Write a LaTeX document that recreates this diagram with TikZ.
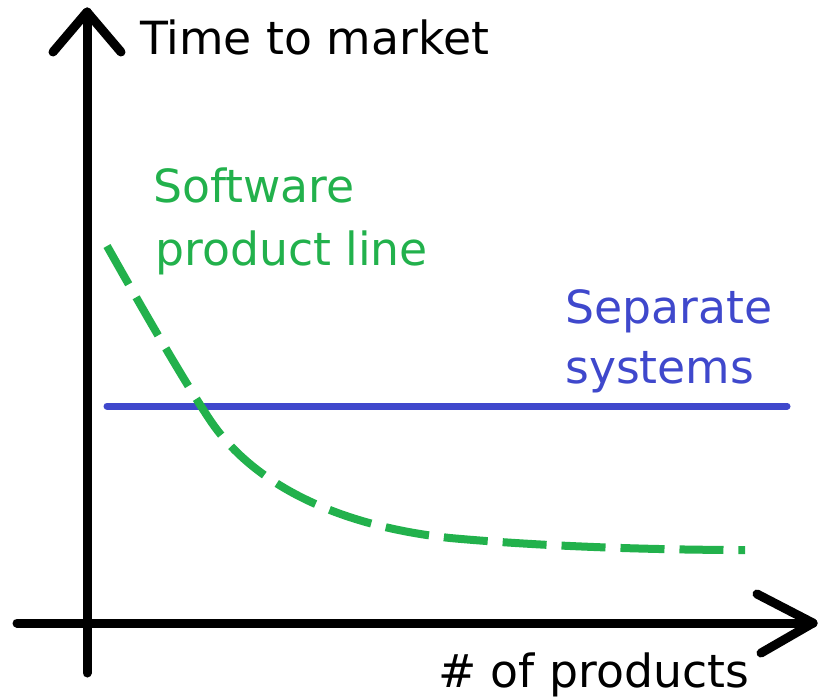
\documentclass[tikz,border=0pt]{standalone}
\usepackage{fontspec}
\setmainfont{DejaVu Sans}
\definecolor{pgreen}{HTML}{22B14C}
\definecolor{pblue}{HTML}{3F48CC}
\begin{document}
\begin{tikzpicture}[x=1pt,y=-1pt,
  axis/.style={line width=9pt,black,line cap=round,line join=round},
  lbl/.style={anchor=base west,inner sep=0pt,font=\fontsize{45.7}{55}\selectfont},
  spl/.style={line width=8pt,pgreen,dash pattern=on 44pt off 15pt},
  sep/.style={line width=7pt,pblue,line cap=round}]
\useasboundingbox (0,0) rectangle (821,698);
% axes
\coordinate (yb) at (87,673);
\coordinate (yt) at (87,12);
\coordinate (xl) at (17,623);
\coordinate (xr) at (813,623);
\coordinate (yal) at (53,52);
\coordinate (yar) at (121,52);
\coordinate (xau) at (757,594);
\coordinate (xad) at (761,653);
\draw[axis] (yb) -- (yt);
\draw[axis] (yal) -- (yt) -- (yar);
\draw[axis] (xl) -- (xr);
\draw[axis] (xau) -- (xr) -- (xad);
% separate systems
\coordinate (s1) at (107,406);
\coordinate (s2) at (787,406);
\draw[sep] (s1) -- (s2);
% software product line
\coordinate (c0) at (107,246);
\coordinate (c1) at (210,420);
\coordinate (c2) at (450,538);
\coordinate (c3) at (745,550);
\draw[spl] (c0) .. controls (160,340) and (190,390) .. (c1)
  .. controls (250,480) and (330,525) .. (c2)
  .. controls (560,548) and (680,550) .. (c3);
% labels
\node[lbl] (ty) at (140,55) {Time to market};
\node[lbl,text=pgreen] (sw1) at (153,202) {Software};
\node[lbl,text=pgreen] (sw2) at (155,265) {product line};
\node[lbl,text=pblue] (ss1) at (565,323) {Separate};
\node[lbl,text=pblue] (ss2) at (565,383) {systems};
\node[lbl] (tx) at (438,687) {\# of products};
\end{tikzpicture}
\end{document}
